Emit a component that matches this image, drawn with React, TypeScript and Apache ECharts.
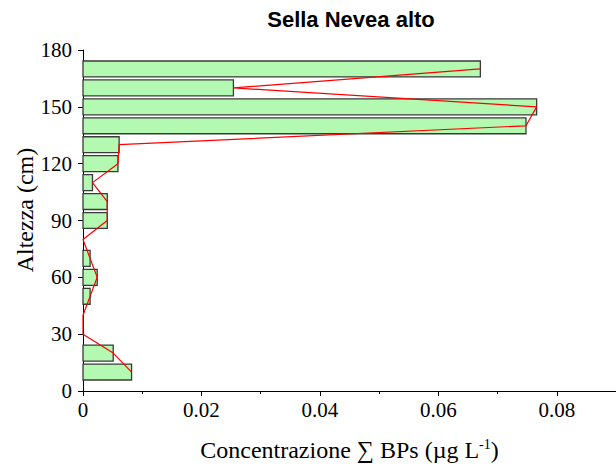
import React, { useEffect, useRef } from "react";
import * as echarts from "echarts";

const heights = [10, 20, 30, 40, 50, 60, 70, 80, 90, 100, 110, 120, 130, 140, 150, 160, 170];
const values = [0.0082, 0.0051, 0, 0, 0.0012, 0.0024, 0.0012, 0, 0.0041, 0.0041, 0.0016, 0.0059, 0.0061, 0.0748, 0.0766, 0.0254, 0.0671];
const titleText = "Sella Nevea alto";
const yName = "Altezza (cm)";

const SERIF = "'Liberation Serif', 'Times New Roman', serif";

export default function App() {
  const ref = useRef<HTMLDivElement>(null);
  useEffect(() => {
    if (!ref.current) return;
    const chart = echarts.init(ref.current, null, { renderer: "svg" });
    const pts = heights.map((h, i) => [values[i], h]);
    chart.setOption({
      animation: false,
      backgroundColor: "#ffffff",
      grid: { left: 83, right: -3, top: 50, bottom: 75, containLabel: false },
      xAxis: {
        type: "value",
        min: 0,
        max: 0.09,
        interval: 0.02,
        name: "Concentrazione ∑ BPs (µg L{sup|-1})",
        nameLocation: "middle",
        nameGap: 46,
        nameTextStyle: {
          fontFamily: SERIF,
          fontSize: 24,
          color: "#000",
          rich: { sup: { fontFamily: SERIF, fontSize: 14, color: "#000", padding: [0, 0, 12, 0] } },
        },
        axisLine: { show: true, lineStyle: { color: "#000", width: 1 } },
        axisTick: { show: true, length: 5, lineStyle: { color: "#000" } },
        minorTick: { show: true, splitNumber: 2, length: 3, lineStyle: { color: "#000" } },
        splitLine: { show: false },
        axisLabel: { showMaxLabel: false, fontFamily: SERIF, fontSize: 21, color: "#000", margin: 8 },
      },
      yAxis: {
        type: "value",
        min: 0,
        max: 180,
        interval: 30,
        axisLine: { show: true, lineStyle: { color: "#000", width: 1 } },
        axisTick: { show: true, length: 5, lineStyle: { color: "#000" } },
        splitLine: { show: false },
        axisLabel: { fontFamily: SERIF, fontSize: 21, color: "#000", margin: 11 },
      },
      graphic: [
        {
          type: "text",
          x: 351,
          y: 19,
          style: {
            text: titleText,
            fontFamily: "'Liberation Sans', Arial, sans-serif",
            fontWeight: "bold",
            fontSize: 22,
            fill: "#000",
            align: "center",
            verticalAlign: "middle",
          },
        },
        {
          type: "text",
          x: 25,
          y: 210,
          rotation: Math.PI / 2,
          style: { text: yName, fontFamily: SERIF, fontSize: 24, fill: "#000", align: "center", verticalAlign: "middle" },
        },
      ],
      series: [
        {
          type: "custom",
          data: pts,
          encode: { x: 0, y: 1 },
          z: 2,
          renderItem: (params: any, api: any) => {
            const v = api.value(0);
            const h = api.value(1);
            if (!(v > 0)) return null;
            const s = api.coord([0, h]);
            const e = api.coord([v, h]);
            const bh = api.size([0, 10])[1] * 0.84;
            return {
              type: "rect",
              shape: { x: s[0], y: s[1] - bh / 2, width: e[0] - s[0], height: bh },
              style: { fill: "#b4f9b1", stroke: "#3a3a3a", lineWidth: 1.3 },
            };
          },
        },
        {
          type: "line",
          data: pts,
          z: 3,
          symbol: "none",
          lineStyle: { color: "#ff0000", width: 1.2 },
        },
      ],
    });
    return () => chart.dispose();
  }, []);
  return <div ref={ref} style={{ position: "fixed", left: 0, top: 0, width: 616, height: 467 }} />;
}
